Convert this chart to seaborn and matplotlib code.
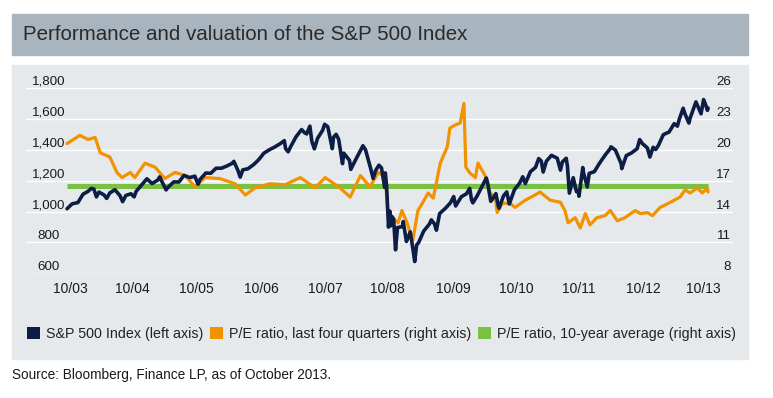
"""
S&P 500 index level vs. P/E ratio, Oct 2003 - Oct 2013
"""
import numpy as np
import pandas as pd
import matplotlib
matplotlib.use('Agg')
import matplotlib.pyplot as plt
from matplotlib.patches import Rectangle, Patch
import seaborn as sns

# S&P 500 index (decimal year, level)
spx_dates = [
    2003.75, 2003.83, 2003.92, 2004.00, 2004.08, 2004.13, 2004.17, 2004.21, 2004.25, 2004.33,
    2004.37, 2004.42, 2004.50, 2004.58, 2004.62, 2004.67, 2004.75, 2004.80, 2004.83, 2004.92,
    2005.00, 2005.08, 2005.17, 2005.20, 2005.25, 2005.30, 2005.33, 2005.42, 2005.50, 2005.58,
    2005.67, 2005.75, 2005.80, 2005.83, 2005.92, 2006.00, 2006.08, 2006.17, 2006.25, 2006.33,
    2006.36, 2006.42, 2006.46, 2006.50, 2006.58, 2006.67, 2006.75, 2006.83, 2006.92, 2007.00,
    2007.08, 2007.15, 2007.17, 2007.21, 2007.25, 2007.33, 2007.42, 2007.47, 2007.50, 2007.55,
    2007.58, 2007.62, 2007.67, 2007.75, 2007.78, 2007.83, 2007.90, 2007.92, 2007.96, 2008.00,
    2008.06, 2008.08, 2008.17, 2008.19, 2008.25, 2008.33, 2008.38, 2008.42, 2008.50, 2008.54,
    2008.58, 2008.63, 2008.67, 2008.72, 2008.73, 2008.75, 2008.78, 2008.80, 2008.82, 2008.83,
    2008.86, 2008.89, 2008.92, 2009.00, 2009.01, 2009.06, 2009.08, 2009.12, 2009.17, 2009.19,
    2009.22, 2009.25, 2009.33, 2009.42, 2009.45, 2009.50, 2009.53, 2009.58, 2009.67, 2009.75,
    2009.80, 2009.83, 2009.92, 2010.00, 2010.05, 2010.08, 2010.10, 2010.17, 2010.25, 2010.31,
    2010.33, 2010.38, 2010.42, 2010.46, 2010.50, 2010.51, 2010.58, 2010.63, 2010.67, 2010.75,
    2010.83, 2010.88, 2010.92, 2011.00, 2011.08, 2011.13, 2011.17, 2011.20, 2011.25, 2011.33,
    2011.42, 2011.47, 2011.50, 2011.56, 2011.58, 2011.61, 2011.67, 2011.72, 2011.75, 2011.76,
    2011.82, 2011.83, 2011.89, 2011.92, 2012.00, 2012.08, 2012.17, 2012.25, 2012.26, 2012.33,
    2012.42, 2012.43, 2012.50, 2012.58, 2012.67, 2012.71, 2012.75, 2012.83, 2012.87, 2012.92,
    2012.96, 2013.00, 2013.08, 2013.17, 2013.25, 2013.30, 2013.33, 2013.39, 2013.42, 2013.48,
    2013.50, 2013.59, 2013.67, 2013.71, 2013.75, 2013.77, 2013.78,
]
spx_values = [
    1018, 1050, 1058, 1112, 1131, 1150, 1145, 1095, 1126, 1107,
    1085, 1121, 1141, 1102, 1064, 1104, 1115, 1095, 1130, 1174,
    1212, 1181, 1204, 1225, 1181, 1140, 1157, 1192, 1191, 1234,
    1220, 1229, 1177, 1207, 1249, 1248, 1280, 1281, 1295, 1311,
    1325, 1270, 1223, 1270, 1277, 1304, 1336, 1378, 1401, 1418,
    1438, 1459, 1407, 1387, 1421, 1482, 1531, 1509, 1503, 1553,
    1455, 1406, 1474, 1527, 1565, 1549, 1407, 1481, 1500, 1468,
    1310, 1378, 1331, 1273, 1323, 1386, 1426, 1400, 1280, 1214,
    1267, 1300, 1283, 1156, 1250, 1166, 899, 1003, 908, 969,
    952, 752, 896, 903, 935, 806, 826, 868, 735, 676,
    784, 798, 873, 919, 946, 919, 879, 987, 1021, 1057,
    1097, 1036, 1096, 1115, 1150, 1074, 1056, 1104, 1169, 1217,
    1187, 1066, 1089, 1116, 1031, 1022, 1102, 1127, 1049, 1141,
    1183, 1225, 1181, 1258, 1286, 1343, 1327, 1256, 1326, 1364,
    1345, 1268, 1321, 1345, 1292, 1119, 1219, 1129, 1131, 1099,
    1285, 1253, 1159, 1247, 1258, 1312, 1366, 1408, 1419, 1398,
    1310, 1278, 1362, 1379, 1407, 1466, 1441, 1412, 1353, 1416,
    1402, 1426, 1498, 1515, 1569, 1553, 1598, 1669, 1631, 1573,
    1606, 1710, 1633, 1725, 1682, 1655, 1670,
]

# P/E ratio, last four quarters (decimal year, ratio)
pe_dates = [
    2003.75, 2003.95, 2004.08, 2004.19, 2004.27, 2004.42, 2004.53, 2004.61, 2004.74, 2004.81,
    2004.97, 2005.13, 2005.28, 2005.44, 2005.60, 2005.75, 2005.91, 2006.14, 2006.38, 2006.54,
    2006.69, 2006.93, 2007.16, 2007.40, 2007.63, 2007.79, 2008.02, 2008.18, 2008.34, 2008.49,
    2008.62, 2008.73, 2008.77, 2008.84, 2008.93, 2008.99, 2009.07, 2009.16, 2009.24, 2009.31,
    2009.40, 2009.48, 2009.59, 2009.70, 2009.74, 2009.82, 2009.90, 2009.96, 2009.99, 2010.06,
    2010.14, 2010.18, 2010.29, 2010.37, 2010.45, 2010.48, 2010.56, 2010.68, 2010.76, 2010.92,
    2011.07, 2011.15, 2011.31, 2011.47, 2011.54, 2011.59, 2011.70, 2011.78, 2011.86, 2011.93,
    2012.04, 2012.17, 2012.25, 2012.36, 2012.48, 2012.64, 2012.72, 2012.83, 2012.91, 2013.03,
    2013.19, 2013.34, 2013.42, 2013.50, 2013.61, 2013.69, 2013.77, 2013.78,
]
pe_values = [
    20.6, 21.4, 21.0, 21.2, 19.7, 19.3, 17.8, 17.3, 17.8, 17.3,
    18.7, 18.3, 17.2, 17.8, 17.5, 16.4, 17.3, 17.2, 16.7, 15.6,
    16.3, 16.7, 16.6, 17.3, 16.3, 17.3, 16.3, 15.4, 17.5, 16.4,
    17.8, 17.3, 13.8, 13.4, 12.9, 14.1, 12.9, 11.2, 14.1, 14.8,
    15.8, 15.3, 18.7, 20.3, 22.1, 22.4, 22.6, 24.5, 18.3, 17.7,
    17.3, 18.7, 17.5, 15.8, 15.4, 13.9, 14.8, 14.8, 14.4, 15.1,
    15.6, 15.9, 15.1, 14.9, 14.1, 12.9, 13.4, 12.4, 13.8, 12.7,
    13.4, 13.6, 14.1, 13.1, 13.4, 14.1, 13.8, 13.9, 13.6, 14.4,
    14.9, 15.4, 16.1, 15.8, 16.3, 15.8, 16.3, 15.9,
]

# P/E ratio, 10-year average
pe_avg = 16.5

left_ticks = [600, 800, 1000, 1200, 1400, 1600, 1800]
right_ticks = [8, 11, 14, 17, 20, 23, 26]
x_labels = ['10/03', '10/04', '10/05', '10/06', '10/07', '10/08',
            '10/09', '10/10', '10/11', '10/12', '10/13']
x_label_pos = [2003.80, 2004.78, 2005.78, 2006.79, 2007.79, 2008.77,
               2009.79, 2010.78, 2011.76, 2012.76, 2013.70]

NAVY = '#0c1e45'
ORANGE = '#f39200'
GREEN = '#7ac143'
PANEL = '#e6e9ec'
BAND = '#a9b5be'
TEXT = '#1a1a1a'

sns.set_style('white')
plt.rcParams['font.family'] = ['Liberation Sans', 'DejaVu Sans']

spx = pd.DataFrame({'date': spx_dates, 'value': spx_values})
pe = pd.DataFrame({'date': pe_dates, 'value': pe_values})
avg = pd.DataFrame({'date': [pe_dates[0], pe_dates[-1]], 'value': [pe_avg, pe_avg]})

W, H = 773, 398
fig = plt.figure(figsize=(W / 100, H / 100), dpi=100)
fig.patch.set_facecolor('white')

# header band and grey panel (behind the axes)
fig.patches.append(Rectangle((12 / W, 1 - 55 / H), 736 / W, 41 / H,
                             transform=fig.transFigure, color=BAND, zorder=-5))
fig.patches.append(Rectangle((12 / W, 1 - 359 / H), 736 / W, 294 / H,
                             transform=fig.transFigure, color=PANEL, zorder=-5))
fig.text(23 / W, 1 - 35 / H, 'Performance and valuation of the S&P 500 Index',
         fontsize=14.8, color='#2a2a2a', va='center', ha='left')

ax_l, ax_r, ax_t, ax_b = 26, 733, 88, 273.3
ax = fig.add_axes([ax_l / W, 1 - ax_b / H, (ax_r - ax_l) / W, (ax_b - ax_t) / H])
ax.patch.set_alpha(0)
ax2 = ax.twinx()
ax2.patch.set_alpha(0)

# right axis series first so the index line sits on top
sns.lineplot(data=avg, x='date', y='value', ax=ax2, color=GREEN, linewidth=3.6,
             solid_capstyle='butt', zorder=2)
sns.lineplot(data=pe, x='date', y='value', ax=ax2, color=ORANGE, linewidth=2.3, zorder=3)
ax.set_zorder(ax2.get_zorder() + 1)
sns.lineplot(data=spx, x='date', y='value', ax=ax, color=NAVY, linewidth=2.6, zorder=4)

ax.set_xlim(2003.108, 2014.17)
ax.set_ylim(600, 1800)
ax2.set_ylim(8, 26)
ax.set_yticks(left_ticks)
ax.set_yticklabels([f'{v:,}' for v in left_ticks])
ax2.set_yticks(right_ticks)
ax2.set_yticklabels([str(v) for v in right_ticks])
ax.set_xticks(x_label_pos)
ax.set_xticklabels(x_labels)
ax.set_xlabel('')
ax.set_ylabel('')
ax2.set_ylabel('')

for a in (ax, ax2):
    for s in a.spines.values():
        s.set_visible(False)

for v in right_ticks:
    ax2.axhline(v, color='white', linewidth=1.0, zorder=1)

ax.tick_params(axis='y', length=0, pad=-16.5, labelsize=9.6, labelcolor=TEXT)
ax2.tick_params(axis='y', length=0, pad=-1.4, labelsize=9.6, labelcolor=TEXT)
ax.tick_params(axis='x', length=0, pad=6.0, labelsize=10, labelcolor=TEXT)
for lab in ax.get_yticklabels():
    lab.set_horizontalalignment('center')
    lab.set_verticalalignment('bottom')
for lab in ax2.get_yticklabels():
    lab.set_horizontalalignment('right')
    lab.set_verticalalignment('bottom')

handles = [Patch(facecolor=NAVY, edgecolor='none'),
           Patch(facecolor=ORANGE, edgecolor='none'),
           Patch(facecolor=GREEN, edgecolor='none')]
labels = ['S&P 500 Index (left axis)',
          'P/E ratio, last four quarters (right axis)',
          'P/E ratio, 10-year average (right axis)']
fig.legend(handles, labels, loc='center left', bbox_to_anchor=(27 / W, 1 - 334 / H),
           ncol=3, frameon=False, fontsize=10.3, handlelength=0.9, handleheight=0.9,
           handletextpad=0.45, columnspacing=0.45, borderpad=0, borderaxespad=0,
           labelcolor='#222222')

fig.text(12 / W, 1 - 375 / H, 'Source: Bloomberg, Finance LP, as of October 2013.',
         fontsize=9.8, color=TEXT, va='center', ha='left')

fig.savefig('out.png', dpi=100)
plt.close(fig)
